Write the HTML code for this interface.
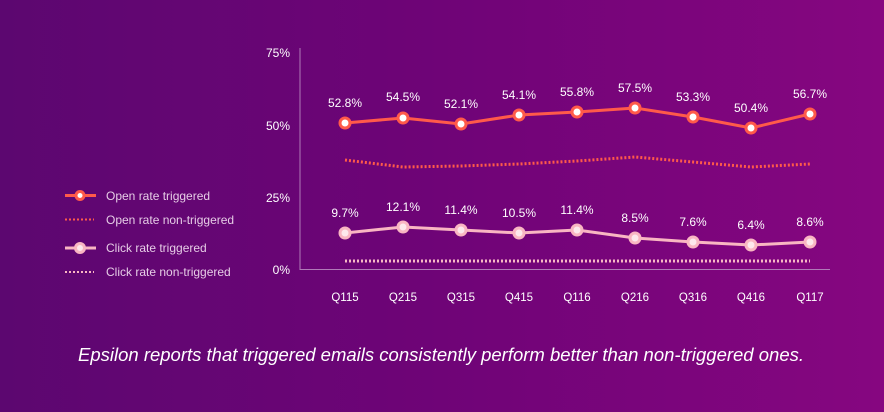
<!DOCTYPE html>
<html><head><style>
body{margin:0;width:884px;height:412px;overflow:hidden;background:linear-gradient(90deg,#5c0770 0%,#6f0477 50%,#860680 100%);font-family:"Liberation Sans",sans-serif;}
</style></head><body>
<svg width="884" height="412" xmlns="http://www.w3.org/2000/svg" style="position:absolute;left:0;top:0">
<g font-family="Liberation Sans, sans-serif" fill="#fff" font-size="12">
<text x="290" y="57" text-anchor="end">75%</text>
<text x="290" y="130" text-anchor="end">50%</text>
<text x="290" y="202" text-anchor="end">25%</text>
<text x="290" y="274" text-anchor="end">0%</text>
</g>
<line x1="300" y1="48" x2="300" y2="270" stroke="#b07ab8" stroke-width="1"/>
<line x1="300" y1="269.5" x2="830" y2="269.5" stroke="#b07ab8" stroke-width="1"/>
<g font-size="11.5" fill="#fff" text-anchor="middle">
<text x="345" y="301">Q115</text><text x="403" y="301">Q215</text><text x="461" y="301">Q315</text><text x="519" y="301">Q415</text><text x="577" y="301">Q116</text><text x="635" y="301">Q216</text><text x="693" y="301">Q316</text><text x="751" y="301">Q416</text><text x="810" y="301">Q117</text>
</g>
<polyline points="345,160 403,167 461,166 519,164 577,161 635,157 693,162 751,167 810,164" fill="none" stroke="#ff5a4a" stroke-width="3" stroke-dasharray="2,2"/>
<polyline points="345,261 810,261" fill="none" stroke="#f6b8c4" stroke-width="3" stroke-dasharray="2,2"/>
<polyline points="345,123 403,118 461,124 519,115 577,112 635,108 693,117 751,128 810,114" fill="none" stroke="#ff5a4a" stroke-width="3"/>
<polyline points="345,233 403,227 461,230 519,233 577,230 635,238 693,242 751,245 810,242" fill="none" stroke="#f9b6c2" stroke-width="3"/>
<g fill="#fff" stroke="#ff5a4a" stroke-width="3">
<circle cx="345" cy="123" r="5"/><circle cx="403" cy="118" r="5"/><circle cx="461" cy="124" r="5"/><circle cx="519" cy="115" r="5"/><circle cx="577" cy="112" r="5"/><circle cx="635" cy="108" r="5"/><circle cx="693" cy="117" r="5"/><circle cx="751" cy="128" r="5"/><circle cx="810" cy="114" r="5"/>
</g>
<g fill="#fde8ec" stroke="#f9b6c2" stroke-width="3">
<circle cx="345" cy="233" r="5"/><circle cx="403" cy="227" r="5"/><circle cx="461" cy="230" r="5"/><circle cx="519" cy="233" r="5"/><circle cx="577" cy="230" r="5"/><circle cx="635" cy="238" r="5"/><circle cx="693" cy="242" r="5"/><circle cx="751" cy="245" r="5"/><circle cx="810" cy="242" r="5"/>
</g>
<g font-size="12" fill="#fff" text-anchor="middle">
<text x="345" y="107">52.8%</text><text x="403" y="101">54.5%</text><text x="461" y="108">52.1%</text><text x="519" y="99">54.1%</text><text x="577" y="96">55.8%</text><text x="635" y="92">57.5%</text><text x="693" y="101">53.3%</text><text x="751" y="112">50.4%</text><text x="810" y="98">56.7%</text>
<text x="345" y="217">9.7%</text><text x="403" y="211">12.1%</text><text x="461" y="214">11.4%</text><text x="519" y="217">10.5%</text><text x="577" y="214">11.4%</text><text x="635" y="222">8.5%</text><text x="693" y="226">7.6%</text><text x="751" y="229">6.4%</text><text x="810" y="226">8.6%</text>
</g>
<line x1="65" y1="195.5" x2="96" y2="195.5" stroke="#ff5a4a" stroke-width="3"/>
<circle cx="80" cy="195.5" r="4" fill="#fff" stroke="#ff5a4a" stroke-width="3"/>
<line x1="65" y1="219.5" x2="94" y2="219.5" stroke="#ff5a4a" stroke-width="2" stroke-dasharray="2,2"/>
<line x1="65" y1="248" x2="96" y2="248" stroke="#f9b6c2" stroke-width="3"/>
<circle cx="80" cy="248" r="4.5" fill="#fde8ec" stroke="#f9b6c2" stroke-width="3"/>
<line x1="65" y1="272" x2="94" y2="272" stroke="#f9b6c2" stroke-width="2" stroke-dasharray="2,2"/>
<g font-size="12" fill="#e6cce6">
<text x="106" y="200">Open rate triggered</text>
<text x="106" y="224">Open rate non-triggered</text>
<text x="106" y="252">Click rate triggered</text>
<text x="106" y="276">Click rate non-triggered</text>
</g>
<text x="78" y="361" font-size="18" font-style="italic" fill="#fff" textLength="726" lengthAdjust="spacingAndGlyphs">Epsilon reports that triggered emails consistently perform better than non-triggered ones.</text>
</svg>
</body></html>
